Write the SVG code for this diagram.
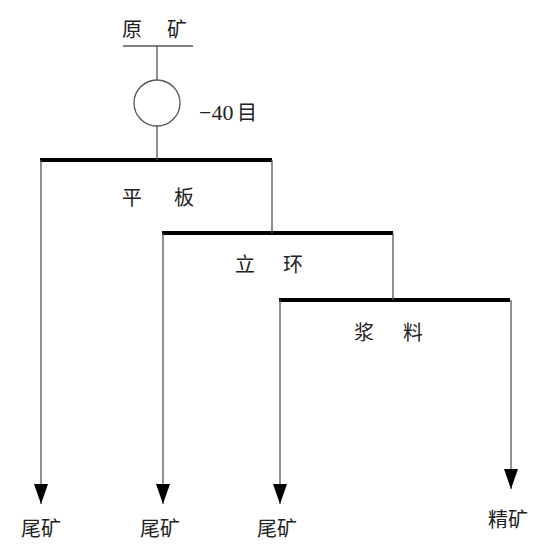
<svg xmlns="http://www.w3.org/2000/svg" width="550" height="552" viewBox="0 0 550 552">
<style>
.t{font-family:"Noto Sans CJK SC","Noto Sans",sans-serif;font-size:20px;fill:#222}
.s{font-family:"Liberation Serif","Noto Sans CJK SC",serif;font-size:22px;fill:#222}
.ln{stroke:#555;stroke-width:1.3;fill:none}
.bar{stroke:#000;stroke-width:4;fill:none}
.ah{fill:#000}
</style>
<defs>
<marker id="arr" markerWidth="22" markerHeight="16" refX="20" refY="8" orient="auto" markerUnits="userSpaceOnUse" viewBox="0 0 22 16">
<path d="M0,1 L20,8 L0,15 Z" class="ah"/>
</marker>
</defs>
<g id="feed">
<text class="t" x="122" y="37">原</text>
<text class="t" x="167" y="37">矿</text>
<line class="ln" x1="123" y1="46" x2="193" y2="46"/>
</g>
<g id="screen">
<circle class="ln" cx="157" cy="103" r="23"/>
<text class="s" x="199" y="120">−40</text><text class="t" x="237" y="120">目</text>
</g>
<g id="pingban">
<line class="bar" x1="40" y1="160" x2="272" y2="160"/>
<text class="t" x="122" y="205">平</text>
<text class="t" x="174" y="205">板</text>
</g>
<g id="lihuan">
<line class="bar" x1="162" y1="233" x2="393" y2="233"/>
<text class="t" x="235" y="272">立</text>
<text class="t" x="283" y="272">环</text>
</g>
<g id="jiangliao">
<line class="bar" x1="279" y1="300" x2="510" y2="300"/>
<text class="t" x="354" y="340">浆</text>
<text class="t" x="403" y="340">料</text>
</g>
<g id="tail1"><text class="t" x="21" y="536">尾矿</text></g>
<g id="tail2"><text class="t" x="140" y="536">尾矿</text></g>
<g id="tail3"><text class="t" x="257" y="536">尾矿</text></g>
<g id="conc"><text class="t" x="488" y="527">精矿</text></g>
<g id="connectors">
<line class="ln" x1="157" y1="46" x2="157" y2="80"/>
<line class="ln" x1="157" y1="126" x2="157" y2="160"/>
<line class="ln" x1="272" y1="160" x2="272" y2="233"/>
<line class="ln" x1="393" y1="233" x2="393" y2="300"/>
<line class="ln" x1="41" y1="160" x2="41" y2="504" marker-end="url(#arr)"/>
<line class="ln" x1="163" y1="233" x2="163" y2="504" marker-end="url(#arr)"/>
<line class="ln" x1="280" y1="300" x2="280" y2="504" marker-end="url(#arr)"/>
<line class="ln" x1="511" y1="300" x2="511" y2="489" marker-end="url(#arr)"/>
</g>
</svg>
